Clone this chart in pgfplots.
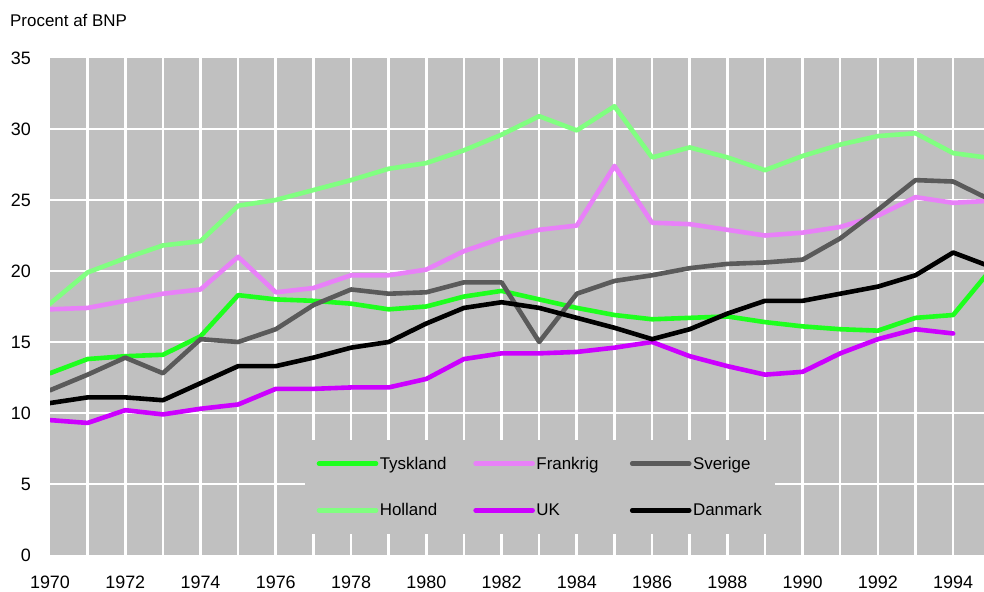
\documentclass[border=0pt]{standalone}
\usepackage{pgfplots}
\pgfplotsset{compat=1.18}
\usepackage{pgfplotstable}
\usepackage{fontspec}
\setmainfont{Liberation Sans}
\definecolor{bg}{HTML}{C0C0C0}
\definecolor{tysk}{HTML}{1EFF1E}
\definecolor{frank}{HTML}{E880F8}
\definecolor{sver}{HTML}{5A5A5A}
\definecolor{holl}{HTML}{80FF80}
\definecolor{uk}{HTML}{CC00FF}
\definecolor{dk}{HTML}{000000}

\pgfplotstableread{
year Tyskland Frankrig Sverige Holland UK Danmark
1970 12.8 17.3 11.6 17.7 9.5 10.7
1971 13.8 17.4 12.7 19.9 9.3 11.1
1972 14.0 17.9 13.9 20.9 10.2 11.1
1973 14.1 18.4 12.8 21.8 9.9 10.9
1974 15.4 18.7 15.2 22.1 10.3 12.1
1975 18.3 21.0 15.0 24.6 10.6 13.3
1976 18.0 18.5 15.9 25.0 11.7 13.3
1977 17.9 18.8 17.6 25.7 11.7 13.9
1978 17.7 19.7 18.7 26.4 11.8 14.6
1979 17.3 19.7 18.4 27.2 11.8 15.0
1980 17.5 20.1 18.5 27.6 12.4 16.3
1981 18.2 21.4 19.2 28.5 13.8 17.4
1982 18.6 22.3 19.2 29.6 14.2 17.8
1983 18.0 22.9 15.0 30.9 14.2 17.4
1984 17.4 23.2 18.4 29.9 14.3 16.7
1985 16.9 27.4 19.3 31.6 14.6 16.0
1986 16.6 23.4 19.7 28.0 15.0 15.2
1987 16.7 23.3 20.2 28.7 14.0 15.9
1988 16.8 22.9 20.5 28.0 13.3 17.0
1989 16.4 22.5 20.6 27.1 12.7 17.9
1990 16.1 22.7 20.8 28.1 12.9 17.9
1991 15.9 23.1 22.3 28.9 14.2 18.4
1992 15.8 23.9 24.3 29.5 15.2 18.9
1993 16.7 25.2 26.4 29.7 15.9 19.7
1994 16.9 24.8 26.3 28.3 15.6 21.3
1995 20.1 24.95 25.0 27.95 nan 20.3
}\data

\begin{document}
\begin{tikzpicture}
\begin{axis}[
  scale only axis, width=934bp, height=497bp,
  xmin=1970, xmax=1994.82, ymin=0, ymax=35,
  axis background/.style={fill=bg},
  axis line style={draw=none},
  major tick length=0pt, minor tick length=0pt,
  xtick={1970,1972,...,1994}, minor xtick={1971,...,1994},
  ytick={0,5,...,35}, minor ytick={5,10,...,30},
  xmajorgrids=false, ymajorgrids=false, xminorgrids=true, yminorgrids=true,
  minor grid style={white, line width=2.6bp},
  /pgf/number format/assume math mode=true,
  /pgf/number format/1000 sep={},
  xticklabel style={font=\fontsize{18}{20}\selectfont, anchor=north, inner sep=0pt, yshift=-21bp},
  yticklabel style={font=\fontsize{18}{20}\selectfont, anchor=east, inner sep=0pt, xshift=-19bp},
  legend columns=3,
  legend cell align=left,
  legend style={at={(0.5246,0.1368)}, anchor=center, fill=bg, draw=none,
    font=\fontsize{17}{20}\selectfont, column sep=0pt, row sep=30bp,
    inner xsep=12bp, inner ysep=15bp, nodes={inner sep=1.5bp}},
  legend image code/.code={\draw[#1] (0bp,0bp) -- (57bp,0bp);},
  every axis plot/.append style={line width=4.6bp, line join=round, line cap=round},
  unbounded coords=discard,
]
\addplot[tysk] table[x=year, y=Tyskland] {\data};
\addlegendentry{\makebox[92bp][l]{Tyskland}}
\addplot[frank] table[x=year, y=Frankrig] {\data};
\addlegendentry{\makebox[92bp][l]{Frankrig}}
\addplot[sver] table[x=year, y=Sverige] {\data};
\addlegendentry{Sverige}
\addplot[holl] table[x=year, y=Holland] {\data};
\addlegendentry{\makebox[92bp][l]{Holland}}
\addplot[uk] table[x=year, y=UK] {\data};
\addlegendentry{\makebox[92bp][l]{UK}}
\addplot[dk] table[x=year, y=Danmark] {\data};
\addlegendentry{Danmark}
\coordinate (SW) at (rel axis cs:0,0);
\coordinate (NE) at (rel axis cs:1,1);
\coordinate (NW) at (rel axis cs:0,1);
\end{axis}
\node[anchor=base west, inner sep=0pt, font=\fontsize{17}{20}\selectfont] at ([xshift=-40bp,yshift=31bp]NW) {Procent af BNP};
\pgfresetboundingbox
\path ([xshift=-50bp,yshift=-37bp]SW) rectangle ([yshift=58bp]NE);
\end{tikzpicture}
\end{document}
